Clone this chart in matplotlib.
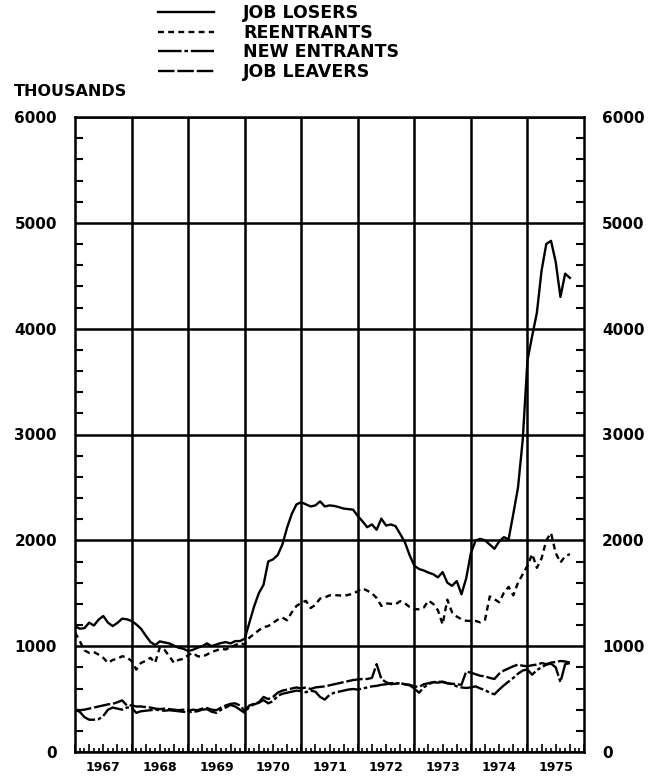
import numpy as np
import matplotlib
matplotlib.use("Agg")
import matplotlib.pyplot as plt
from matplotlib.ticker import MultipleLocator

# monthly, Jan 1967 .. Oct 1975 (thousands)
job_losers = [1190, 1165, 1170, 1222, 1195, 1250, 1285, 1222, 1190, 1220, 1260, 1254,
              1238, 1206, 1165, 1100, 1040, 1010, 1045, 1035, 1026, 1005, 985, 975,
              955, 965, 985, 1000, 1026, 1000, 1016, 1030, 1038, 1026, 1048, 1048,
              1070, 1222, 1375, 1500, 1580, 1800, 1820, 1860, 1960, 2120, 2250, 2340,
              2360, 2340, 2320, 2330, 2368, 2320, 2330, 2325, 2314, 2300, 2295, 2290,
              2230, 2180, 2124, 2150, 2100, 2205, 2140, 2150, 2135, 2060, 1982, 1860,
              1760, 1729, 1715, 1695, 1680, 1650, 1700, 1600, 1570, 1615, 1490, 1640,
              1880, 1998, 2014, 2000, 1960, 1920, 1990, 2030, 2010, 2250, 2500, 2950,
              3700, 3930, 4150, 4550, 4800, 4830, 4630, 4300, 4520, 4480]
reentrants = [1130, 1050, 960, 937, 945, 920, 890, 842, 870, 880, 905, 895,
              860, 779, 842, 860, 890, 842, 990, 965, 905, 842, 870, 880,
              915, 937, 905, 900, 921, 945, 960, 975, 969, 990, 1010, 1032,
              1016, 1080, 1115, 1150, 1180, 1190, 1220, 1250, 1270, 1245, 1320, 1380,
              1410, 1428, 1360, 1390, 1450, 1460, 1480, 1482, 1480, 1475, 1485, 1495,
              1520, 1545, 1525, 1500, 1455, 1380, 1405, 1400, 1396, 1425, 1405, 1370,
              1349, 1349, 1365, 1430, 1400, 1340, 1206, 1440, 1320, 1280, 1254, 1240,
              1238, 1238, 1225, 1250, 1470, 1444, 1415, 1505, 1560, 1480, 1600, 1680,
              1760, 1870, 1740, 1830, 2000, 2070, 1880, 1790, 1850, 1870]
new_entrants = [400, 380, 330, 305, 305, 310, 340, 400, 420, 410, 400, 420,
                420, 370, 385, 390, 395, 400, 395, 390, 395, 390, 385, 380,
                375, 380, 385, 400, 405, 380, 370, 400, 420, 445, 430, 400,
                370, 430, 450, 465, 490, 460, 480, 530, 550, 560, 570, 580,
                575, 565, 580, 570, 520, 495, 540, 560, 570, 580, 590, 595,
                590, 600, 610, 620, 625, 635, 640, 650, 652, 648, 640, 630,
                600, 560, 610, 640, 660, 655, 665, 650, 640, 620, 610, 605,
                610, 620, 600, 585, 560, 545, 590, 630, 665, 700, 740, 770,
                780, 730, 775, 800, 825, 835, 800, 660, 830, 840]
job_leavers = [400, 395, 400, 410, 420, 430, 440, 450, 455, 470, 488, 440,
               440, 430, 430, 425, 420, 410, 405, 410, 405, 400, 395, 400,
               390, 400, 395, 410, 415, 400, 395, 420, 440, 455, 460, 440,
               390, 440, 455, 470, 520, 500, 520, 560, 580, 590, 600, 610,
               600, 610, 595, 610, 615, 620, 630, 640, 650, 660, 670, 680,
               685, 690, 690, 700, 830, 690, 660, 640, 645, 650, 640, 635,
               620, 615, 640, 650, 660, 665, 660, 650, 645, 640, 635, 760,
               750, 735, 720, 715, 700, 690, 740, 770, 790, 810, 826, 815,
               810, 820, 826, 840, 830, 845, 850, 860, 855, 845]
years = list(range(1967, 1976))

t = 1967 + np.arange(len(job_losers)) / 12.0

plt.rcParams['font.family'] = 'DejaVu Sans'
plt.rcParams['font.weight'] = 'bold'

fig = plt.figure(figsize=(6.58, 7.79), dpi=100)
ax = fig.add_axes([75 / 658, 1 - 752 / 779, (584 - 75) / 658, (752 - 117) / 779])

lw = 1.7
ax.plot(t, job_losers, color='black', lw=lw, label='JOB LOSERS')
ax.plot(t, reentrants, color='black', lw=lw, ls=(0, (2.5, 1.8)), label='REENTRANTS')
ax.plot(t, new_entrants, color='black', lw=lw, ls=(0, (10, 1.2, 1.5, 1.2)), label='NEW ENTRANTS')
ax.plot(t, job_leavers, color='black', lw=lw, ls=(0, (7, 1.2)), label='JOB LEAVERS')

ax.set_xlim(1967, 1976)
ax.set_ylim(0, 6000)

# y axis: labels both sides, inward ticks
ax.yaxis.set_major_locator(MultipleLocator(1000))
ax.yaxis.set_minor_locator(MultipleLocator(200))
ax.tick_params(axis='y', which='both', direction='in', left=True, right=True,
               labelleft=True, labelright=True, width=1.5)
ax.tick_params(axis='y', which='major', length=0, pad=13, labelsize=11)
ax.tick_params(axis='y', which='minor', length=6)
ax.grid(True, axis='y', which='major', color='black', lw=1.8)

# x axis: quarterly and monthly ticks, year labels between gridlines
ax.xaxis.set_major_locator(MultipleLocator(0.25))
ax.xaxis.set_minor_locator(MultipleLocator(1 / 12))
ax.tick_params(axis='x', which='both', direction='in', top=False, labelbottom=False, width=1.2)
ax.tick_params(axis='x', which='major', length=6)
ax.tick_params(axis='x', which='minor', length=3)
for y in years[1:]:
    ax.axvline(y, color='black', lw=1.8)
for y in years:
    ax.text(y + 0.5, -0.024, str(y), transform=ax.get_xaxis_transform(),
            ha='center', va='center', fontsize=9, fontweight='bold')

for s in ax.spines.values():
    s.set_linewidth(1.8)

fig.text(14 / 658, 1 - 92 / 779, 'THOUSANDS', fontsize=11.5, fontweight='bold',
         va='center', ha='left')

leg = fig.legend(loc='upper left', bbox_to_anchor=(158 / 658, 1 - 4 / 779), frameon=False,
                 handlelength=3.2, handletextpad=1.7, labelspacing=0.1,
                 borderpad=0, borderaxespad=0,
                 prop={'size': 12.5, 'weight': 'bold'})

fig.savefig('out.png', dpi=100)
